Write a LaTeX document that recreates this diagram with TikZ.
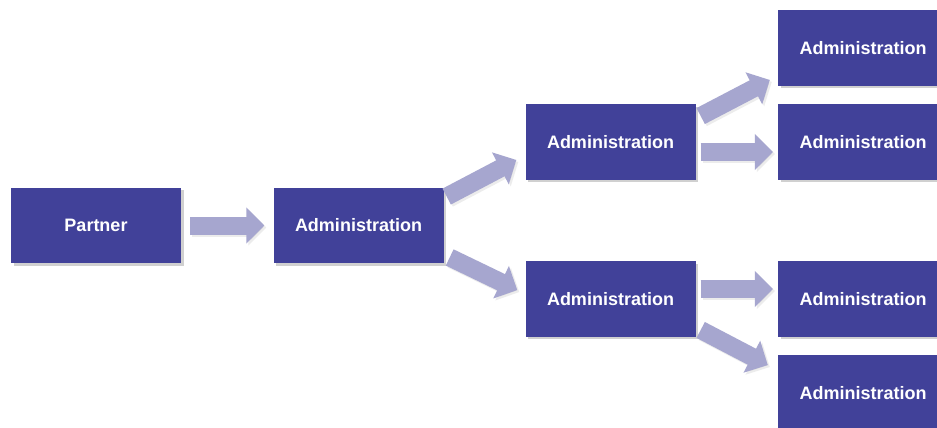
\documentclass[tikz,border=0pt]{standalone}
\usepackage{fontspec}
\setmainfont{Liberation Sans}
\usetikzlibrary{arrows.meta,calc,shadows}
\definecolor{boxblue}{HTML}{414199}
\definecolor{arrowlav}{HTML}{A6A6CF}
\tikzset{
  box/.style={fill=boxblue, minimum width=170pt, minimum height=75.5pt, inner sep=0pt,
    text=white, font=\fontsize{18}{21}\selectfont\bfseries,
    drop shadow={shadow xshift=2.5pt, shadow yshift=-2.5pt, opacity=0.3, fill=black!60}},
  flow/.style={draw=arrowlav, line width=18pt,
    -{Triangle[width=35pt,length=18pt]},
    preaction={draw=black!50, opacity=0.15, line width=18pt, -{Triangle[width=35pt,length=18pt]},
      transform canvas={shift={(2pt,-2pt)}}}}
}
\begin{document}
\begin{tikzpicture}[x=1pt,y=-1pt]
\useasboundingbox (0,0) rectangle (937,428);
\fill[white] (0,0) rectangle (937,428);
\node[box] (P)  at (96,225.5) {Partner};
\node[box] (A1) at (358.5,225.5) {Administration};
\node[box] (A2) at (610.5,142) {Administration};
\node[box] (A3) at (610.5,299) {Administration};
\node[box] (R1) at (863,48) {Administration};
\node[box] (R2) at (863,142) {Administration};
\node[box] (R3) at (863,299) {Administration};
\node[box] (R4) at (863,393) {Administration};

\draw[flow] ($(P.east)+(9,0)$) -- ($(A1.west)+(-9,0)$);
\draw[flow] ($(A1.north east)+(3,9)$) -- ($(A2.south west)+(-9,-20)$);
\draw[flow] ($(A1.south east)+(6,-6)$) -- ($(A3.north west)+(-8,29)$);
\draw[flow] ($(A2.north east)+(5,12)$) -- ($(R1.south west)+(-8,-6)$);
\draw[flow] ($(A2.east)+(5,10)$) -- ($(R2.west)+(-5,10)$);
\draw[flow] ($(A3.east)+(5,-10)$) -- ($(R3.west)+(-5,-10)$);
\draw[flow] ($(A3.south east)+(5,-7)$) -- ($(R4.north west)+(-10,10)$);
\end{tikzpicture}
\end{document}
